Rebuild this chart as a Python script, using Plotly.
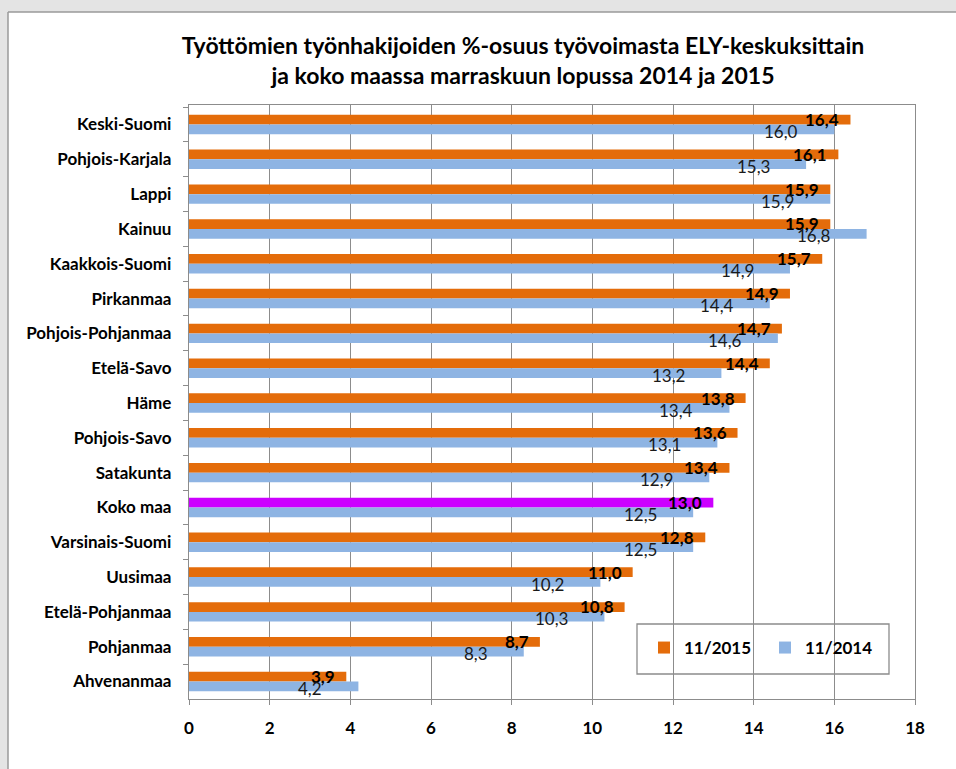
import plotly.graph_objects as go

regions = ["Keski-Suomi", "Pohjois-Karjala", "Lappi", "Kainuu", "Kaakkois-Suomi",
           "Pirkanmaa", "Pohjois-Pohjanmaa", "Etelä-Savo", "Häme", "Pohjois-Savo",
           "Satakunta", "Koko maa", "Varsinais-Suomi", "Uusimaa", "Etelä-Pohjanmaa",
           "Pohjanmaa", "Ahvenanmaa"]
val_2015 = [16.4, 16.1, 15.9, 15.9, 15.7, 14.9, 14.7, 14.4, 13.8, 13.6, 13.4, 13.0,
            12.8, 11.0, 10.8, 8.7, 3.9]
val_2014 = [16.0, 15.3, 15.9, 16.8, 14.9, 14.4, 14.6, 13.2, 13.4, 13.1, 12.9, 12.5,
            12.5, 10.2, 10.3, 8.3, 4.2]
x_ticks = [0, 2, 4, 6, 8, 10, 12, 14, 16, 18]

ORANGE = "#E46C0A"
BLUE = "#8EB4E3"
MAGENTA = "#CC00FF"
GRID = "#8c8c8c"
OUTER = "#e4e4e4"
FONT = "Lato"

W, H = 956, 769
PW, PH = 726, 594   # plot area size in px
L, T = 189, 105

def px_x(p):
    return (p - L) / PW

def px_y(p):
    return (T + PH - p) / PH

colors_2015 = [MAGENTA if r == "Koko maa" else ORANGE for r in regions]

fig = go.Figure()
fig.add_trace(go.Bar(y=regions, x=val_2015, orientation="h", name="11/2015",
                     marker=dict(color=colors_2015, line=dict(width=0))))
fig.add_trace(go.Bar(y=regions, x=val_2014, orientation="h", name="11/2014",
                     marker=dict(color=BLUE, line=dict(width=0))))

def fmt(v):
    return f"{v:.1f}".replace(".", ",")

annotations = []
for r, v in zip(regions, val_2015):
    annotations.append(dict(x=v, y=r, xref="x", yref="y", text=fmt(v), showarrow=False,
                            xanchor="right", yanchor="middle", xshift=-9, yshift=5,
                            font=dict(family=FONT, size=17, color="black", weight="bold")))
for r, v in zip(regions, val_2014):
    annotations.append(dict(x=v, y=r, xref="x", yref="y", text=fmt(v), showarrow=False,
                            xanchor="right", yanchor="middle", xshift=-34, yshift=-7,
                            font=dict(family=FONT, size=17, color="#1a1a1a")))

fig.update_layout(
    width=W, height=H,
    margin=dict(l=L, r=W - L - PW, t=T, b=H - T - PH, autoexpand=False),
    paper_bgcolor="white",
    plot_bgcolor="white",
    barmode="group",
    bargap=0.44,
    bargroupgap=0,
    font=dict(family=FONT, color="black"),
    title=dict(text="Työttömien työnhakijoiden %-osuus työvoimasta ELY-keskuksittain<br>ja koko maassa marraskuun lopussa 2014 ja 2015",
               x=523 / W, xanchor="center", y=1 - 54 / H, yanchor="top",
               font=dict(family=FONT, size=23, color="black", weight="bold")),
    showlegend=True,
    legend=dict(orientation="h", x=px_x(644), y=px_y(630), xanchor="left", yanchor="top",
                bgcolor="rgba(0,0,0,0)", borderwidth=0,
                font=dict(family=FONT, size=17, color="black", weight="bold"),
                entrywidth=76, traceorder="normal"),
    annotations=annotations,
    shapes=[
        # outer grey frame strips (top and left)
        dict(type="rect", xref="paper", yref="paper", layer="below",
             x0=px_x(-5), x1=px_x(1000), y0=px_y(12), y1=px_y(-5),
             fillcolor=OUTER, line=dict(width=0)),
        dict(type="rect", xref="paper", yref="paper", layer="below",
             x0=px_x(-5), x1=px_x(8), y0=px_y(800), y1=px_y(12),
             fillcolor=OUTER, line=dict(width=0)),
        dict(type="line", xref="paper", yref="paper", layer="below",
             x0=px_x(8), x1=px_x(1000), y0=px_y(12), y1=px_y(12),
             line=dict(color="#9a9a9a", width=1.5)),
        dict(type="line", xref="paper", yref="paper", layer="below",
             x0=px_x(8), x1=px_x(8), y0=px_y(800), y1=px_y(12),
             line=dict(color="#9a9a9a", width=1.5)),
        # legend frame
        dict(type="rect", xref="paper", yref="paper", layer="above",
             x0=px_x(637), x1=px_x(889), y0=px_y(674), y1=px_y(624),
             line=dict(color=GRID, width=1.3)),
    ],
)
fig.update_xaxes(range=[0, 18], tickvals=x_ticks, showgrid=True, gridcolor=GRID, gridwidth=1.3,
                 showline=True, linecolor=GRID, linewidth=1.3, mirror=True,
                 ticks="outside", ticklen=5, tickcolor=GRID, zeroline=False,
                 ticklabelstandoff=8,
                 tickfont=dict(family=FONT, size=17, color="black", weight="bold"))
fig.update_yaxes(categoryorder="array", categoryarray=regions, autorange="reversed",
                 showgrid=False, showline=True, linecolor=GRID, linewidth=1.3, mirror=True,
                 ticks="outside", ticklen=5, tickcolor=GRID, tickson="boundaries",
                 ticklabelstandoff=13,
                 tickfont=dict(family=FONT, size=17, color="black", weight="bold"))

fig.write_html("out.html", config={"displayModeBar": False},
               post_script="document.body.style.margin='0';document.body.style.overflow='hidden';"
                           "document.documentElement.style.overflow='hidden';")
